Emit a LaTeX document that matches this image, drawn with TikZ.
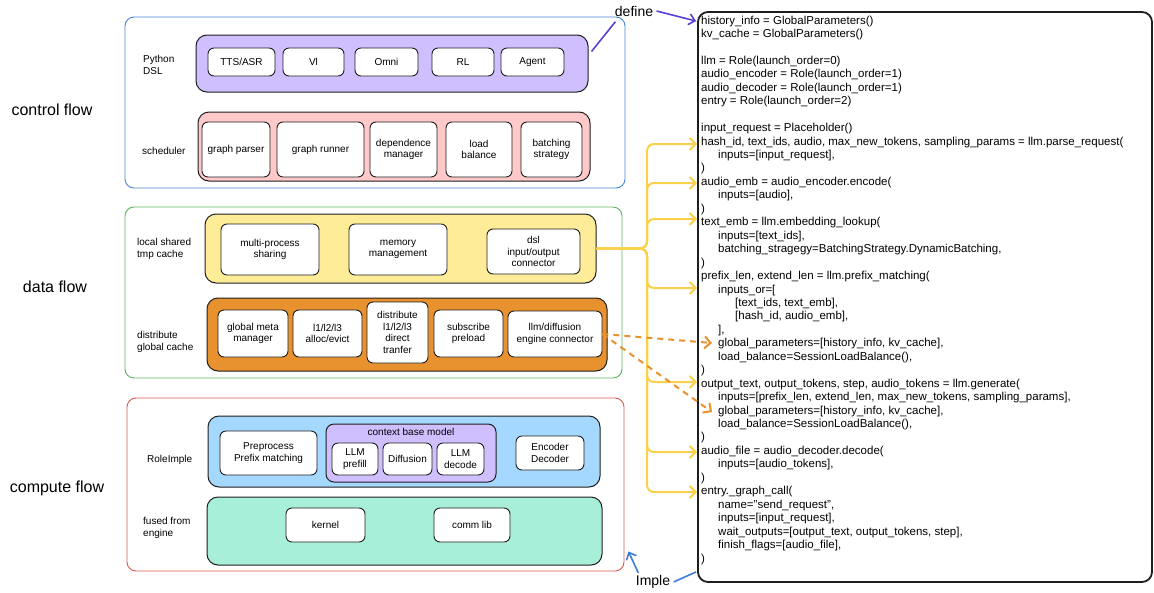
\documentclass[tikz,border=0pt]{standalone}
\usepackage{fontspec}
\setmainfont{Liberation Sans}
\usetikzlibrary{positioning, arrows.meta, calc}
\definecolor{ctrlblue}{HTML}{4A86D4}
\definecolor{datagreen}{HTML}{5DB35D}
\definecolor{compred}{HTML}{E05555}
\definecolor{dslviolet}{HTML}{D0BFFF}
\definecolor{schedpink}{HTML}{FFC9C9}
\definecolor{tmpyellow}{HTML}{FFEC99}
\definecolor{globorange}{HTML}{E8912F}
\definecolor{roleblue}{HTML}{A5D8FF}
\definecolor{fusedmint}{HTML}{A8EFD9}
\definecolor{fanyellow}{HTML}{FAD04C}
\definecolor{definepurple}{HTML}{5B3FD6}
\definecolor{impleblue}{HTML}{3B7DD8}
\definecolor{inkdark}{HTML}{1E1E1E}
\newcommand{\ci}{\hspace*{17pt}}
\tikzset{
  flowbox/.style={rounded corners=9pt, line width=0.9pt},
  band/.style={draw=inkdark, rounded corners=11pt, line width=1pt},
  item/.style={draw=inkdark, fill=white, rounded corners=6pt, line width=0.9pt,
    align=center, inner sep=1pt, font=\fontsize{10}{11.5}\selectfont},
  side/.style={align=left, anchor=west, inner sep=0pt, font=\fontsize{10}{12}\selectfont},
  flowlabel/.style={font=\fontsize{16}{19}\selectfont},
  fan/.style={draw=fanyellow, line width=2pt, rounded corners=7pt,
    -{Straight Barb[length=6pt,width=12pt]}},
  feed/.style={draw=globorange, line width=2pt, dash pattern=on 6pt off 5pt,
    -{Straight Barb[length=6pt,width=12pt]}},
}

\begin{document}
\begin{tikzpicture}[x=1pt, y=-1pt]
\useasboundingbox (0,0) rectangle (1154,592);

% control flow
\node[flowbox, draw=ctrlblue, minimum width=500pt, minimum height=171pt] (control) at (375,102.5) {};
\node[flowlabel] (controllbl) at (52,110) {control flow};
\node[band, fill=dslviolet, minimum width=392pt, minimum height=57pt] (dsl) at (392,63.5) {};
\node[side] (dsllbl) at (143,65) {Python\\DSL};
\node[item, minimum width=67pt, minimum height=28pt] (tts) at (241.5,62) {TTS/ASR};
\node[item, minimum width=61pt, minimum height=28pt] (vl) at (313.5,62) {Vl};
\node[item, minimum width=63pt, minimum height=28pt] (omni) at (386.5,62) {Omni};
\node[item, minimum width=62pt, minimum height=28pt] (rl) at (463,62) {RL};
\node[item, minimum width=63pt, minimum height=28pt] (agent) at (532.5,62) {Agent};

\node[band, fill=schedpink, minimum width=392pt, minimum height=69pt] (sched) at (394,146.5) {};
\node[side] (schedlbl) at (142,151) {scheduler};
\node[item, minimum width=68pt, minimum height=55pt] (parser) at (236,149.5) {graph parser};
\node[item, minimum width=87pt, minimum height=55pt] (runner) at (320.5,149.5) {graph runner};
\node[item, minimum width=67pt, minimum height=55pt] (depend) at (403.5,149.5) {dependence\\manager};
\node[item, minimum width=66pt, minimum height=55pt] (balance) at (479,149.5) {load\\balance};
\node[item, minimum width=61pt, minimum height=55pt] (batching) at (551.5,149.5) {batching\\strategy};

% data flow
\node[flowbox, draw=datagreen, minimum width=497pt, minimum height=171pt] (data) at (373.5,292.5) {};
\node[flowlabel] (datalbl) at (55,287) {data flow};
\node[band, fill=tmpyellow, minimum width=391pt, minimum height=69pt] (local) at (400.5,248.5) {};
\node[side] (locallbl) at (137,249) {local shared\\tmp cache};
\node[item, minimum width=98pt, minimum height=51pt] (multi) at (270,249.5) {multi-process\\sharing};
\node[item, minimum width=98pt, minimum height=51pt] (memory) at (398,249.5) {memory\\management};
\node[item, minimum width=93pt, minimum height=45pt] (io) at (533.5,251.5) {dsl\\input/output\\connector};

\node[band, fill=globorange, minimum width=400pt, minimum height=73pt] (global) at (407,334.5) {};
\node[side] (globallbl) at (137,342) {distribute\\global cache};
\node[item, minimum width=70pt, minimum height=47pt] (meta) at (253,333.5) {global meta\\manager};
\node[item, minimum width=69pt, minimum height=47pt] (alloc) at (327.5,333.5) {l1/l2/l3\\alloc/evict};
\node[item, minimum width=61pt, minimum height=61pt] (direct) at (397.5,332.5) {distribute\\l1/l2/l3\\direct\\tranfer};
\node[item, minimum width=69pt, minimum height=47pt] (preload) at (468.5,333.5) {subscribe\\preload};
\node[item, minimum width=94pt, minimum height=46pt] (engine) at (555,334) {llm/diffusion\\engine connector};

% compute flow
\node[flowbox, draw=compred, minimum width=497pt, minimum height=173pt] (compute) at (375.5,484.5) {};
\node[flowlabel] (computelbl) at (57,488) {compute flow};
\node[band, fill=roleblue, minimum width=392pt, minimum height=71pt] (role) at (404,451.5) {};
\node[side] (rolelbl) at (147,460) {RoleImple};
\node[item, minimum width=97pt, minimum height=44pt] (prefix) at (268.5,453) {Preprocess\\Prefix matching};
\node[band, fill=dslviolet, rounded corners=8pt, minimum width=170pt, minimum height=58pt] (ctx) at (411,453) {};
\node[font=\fontsize{10}{11.5}\selectfont] (ctxlbl) at (411,432) {context base model};
\node[item, minimum width=46pt, minimum height=32pt] (prefill) at (355,459) {LLM\\prefill};
\node[item, minimum width=49pt, minimum height=32pt] (diffusion) at (407.5,459) {Diffusion};
\node[item, minimum width=47pt, minimum height=32pt] (decode) at (460.5,459) {LLM\\decode};
\node[item, minimum width=68pt, minimum height=34pt] (encdec) at (550,453) {Encoder\\Decoder};

\node[band, fill=fusedmint, minimum width=395pt, minimum height=68pt] (fused) at (404.5,531) {};
\node[side] (fusedlbl) at (143,528) {fused from\\engine};
\node[item, minimum width=79pt, minimum height=34pt] (kernel) at (325.5,525) {kernel};
\node[item, minimum width=76pt, minimum height=34pt] (comm) at (472,525) {comm lib};

% code
\node[draw=inkdark, line width=1.8pt, rounded corners=10pt, minimum width=454pt, minimum height=570pt] (codebox) at (925,297) {};
\node[anchor=north west, align=left, inner sep=0pt, font=\fontsize{11.5}{13.45}\selectfont] (code) at (701,15.5) {%
history\_info = GlobalParameters()\\
kv\_cache = GlobalParameters()\\
\mbox{}\\
llm = Role(launch\_order=0)\\
audio\_encoder = Role(launch\_order=1)\\
audio\_decoder = Role(launch\_order=1)\\
entry = Role(launch\_order=2)\\
\mbox{}\\
input\_request = Placeholder()\\
hash\_id, text\_ids, audio, max\_new\_tokens, sampling\_params = llm.parse\_request(\\
\ci inputs=[input\_request],\\
)\\
audio\_emb = audio\_encoder.encode(\\
\ci inputs=[audio],\\
)\\
text\_emb = llm.embedding\_lookup(\\
\ci inputs=[text\_ids],\\
\ci batching\_stragegy=BatchingStrategy.DynamicBatching,\\
)\\
prefix\_len, extend\_len = llm.prefix\_matching(\\
\ci inputs\_or=[\\
\ci\ci [text\_ids, text\_emb],\\
\ci\ci [hash\_id, audio\_emb],\\
\ci ],\\
\ci global\_parameters=[history\_info, kv\_cache],\\
\ci load\_balance=SessionLoadBalance(),\\
)\\
output\_text, output\_tokens, step, audio\_tokens = llm.generate(\\
\ci inputs=[prefix\_len, extend\_len, max\_new\_tokens, sampling\_params],\\
\ci global\_parameters=[history\_info, kv\_cache],\\
\ci load\_balance=SessionLoadBalance(),\\
)\\
audio\_file = audio\_decoder.decode(\\
\ci inputs=[audio\_tokens],\\
)\\
entry.\_graph\_call(\\
\ci name="send\_request",\\
\ci inputs=[input\_request],\\
\ci wait\_outputs=[output\_text, output\_tokens, step],\\
\ci finish\_flags=[audio\_file],\\
)};

\coordinate (fork) at (647,248.5);
\coordinate (parse) at (697,144);
\coordinate (encode) at (697,183);
\coordinate (lookup) at (697,219);
\coordinate (match) at (697,288);
\coordinate (generate) at (697,382);
\coordinate (decodein) at (697,452);
\coordinate (graphcall) at (697,492);
\foreach \t in {parse, encode, lookup, match, generate, decodein, graphcall}
  \draw[fan] (local.east) -- (fork) |- (\t);

\coordinate (matchparams) at (712,343);
\coordinate (genparams) at (712,412);
\draw[feed] (engine.east) -- (matchparams);
\draw[feed] (engine.east) -- (genparams);

% define / imple
\node[font=\fontsize{14}{16}\selectfont] (define) at (634,11) {define};
\draw[definepurple, line width=1.6pt] ($(dsl.north east)+(3,17)$) -- ($(define.south west)+(4,2)$);
\draw[definepurple, line width=1.6pt, -{Straight Barb[length=6pt,width=11pt]}] (define.east) -- ($(codebox.north west)+(-1,10)$);

\node[font=\fontsize{14}{16}\selectfont] (imple) at (653,582) {Imple};
\draw[impleblue, line width=1.6pt, -{Straight Barb[length=6pt,width=11pt]}] ($(imple.north west)+(6,1)$) -- ($(compute.south east)+(4,-20)$);
\draw[impleblue, line width=1.6pt] (imple.east) -- ($(codebox.south west)+(-1,-11)$);
\end{tikzpicture}
\end{document}
